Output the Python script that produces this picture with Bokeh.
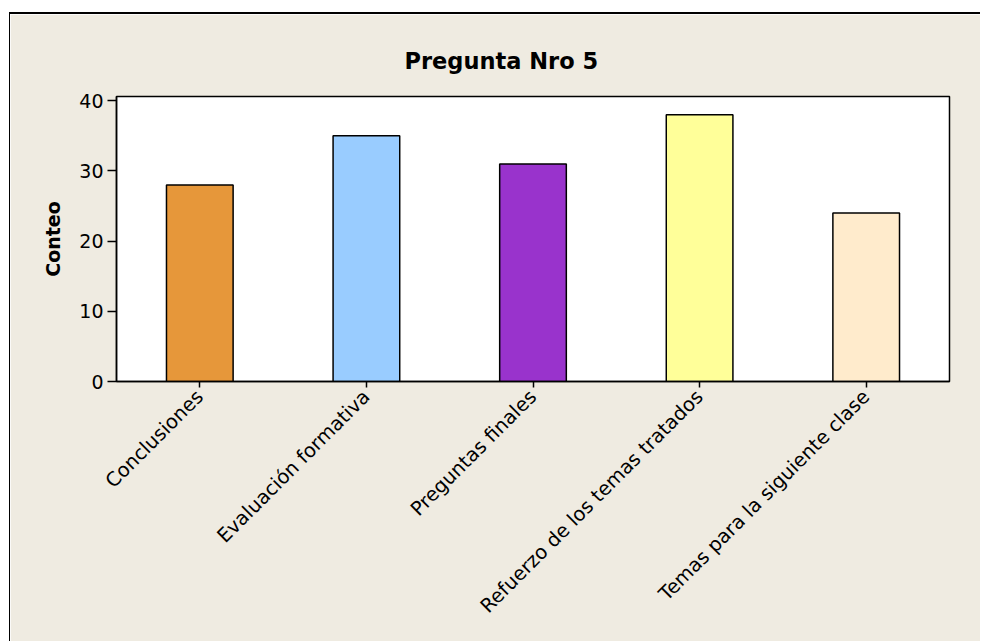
import math
from bokeh.plotting import figure
from bokeh.models import ColumnDataSource, FactorRange, Range1d, FixedTicker
from bokeh.embed import file_html
from bokeh.resources import INLINE

categories = ["Conclusiones", "Evaluación formativa", "Preguntas finales",
              "Refuerzo de los temas tratados", "Temas para la siguiente clase"]
counts = [28, 35, 31, 38, 24]
colors = ["#E6973A", "#99CCFF", "#9933CC", "#FFFF99", "#FFEBCC"]
y_ticks = [0, 10, 20, 30, 40]

BG = "#EFEBE1"
FONT = "DejaVu Sans"

src = ColumnDataSource(dict(cat=categories, n=counts, col=colors))

p = figure(x_range=FactorRange(*categories, range_padding=0),
           y_range=Range1d(0, 40.6),
           width=971, height=629,
           output_backend="svg", toolbar_location=None,
           min_border_left=106, min_border_top=82,
           min_border_right=32, min_border_bottom=262,
           title="Pregunta Nro 5")
p.margin = (12, 0, 0, 9)
p.styles = {"border-top": "2px solid #000000", "border-left": "1px solid #000000"}

p.vbar(x="cat", top="n", width=0.4, source=src, fill_color="col",
       line_color="black", line_width=1.5)

p.background_fill_color = "white"
p.border_fill_color = BG
p.outline_line_color = "black"
p.outline_line_width = 1.5
p.xgrid.visible = False
p.ygrid.visible = False

p.title.text_font = FONT
p.title.text_font_size = "22.5px"
p.title.text_font_style = "bold"
p.title.text_color = "black"
p.title.align = "left"
p.title.offset = 288
p.title.standoff = 46

p.yaxis.ticker = FixedTicker(ticks=y_ticks)
p.yaxis.axis_label = "Conteo"
p.yaxis.axis_label_text_font = FONT
p.yaxis.axis_label_text_font_size = "19px"
p.yaxis.axis_label_text_font_style = "bold"
p.yaxis.axis_label_text_color = "black"
p.yaxis.axis_label_standoff = 12
p.yaxis.major_tick_out = 9
p.yaxis.major_tick_in = 0
p.yaxis.minor_tick_out = 0
p.yaxis.minor_tick_in = 0
p.yaxis.major_label_standoff = 4

p.xaxis.major_label_orientation = math.pi / 4
p.xaxis.major_tick_out = 6
p.xaxis.major_tick_in = 0
p.xaxis.major_label_standoff = 6

for ax in (p.xaxis, p.yaxis):
    ax.axis_line_color = "black"
    ax.axis_line_width = 1.5
    ax.major_tick_line_color = "black"
    ax.major_tick_line_width = 1.5
    ax.major_label_text_font = FONT
    ax.major_label_text_font_size = "19px"
    ax.major_label_text_color = "black"

p.xaxis.major_label_text_font_size = "19.5px"

open("out.html", "w").write(file_html(p, INLINE))
